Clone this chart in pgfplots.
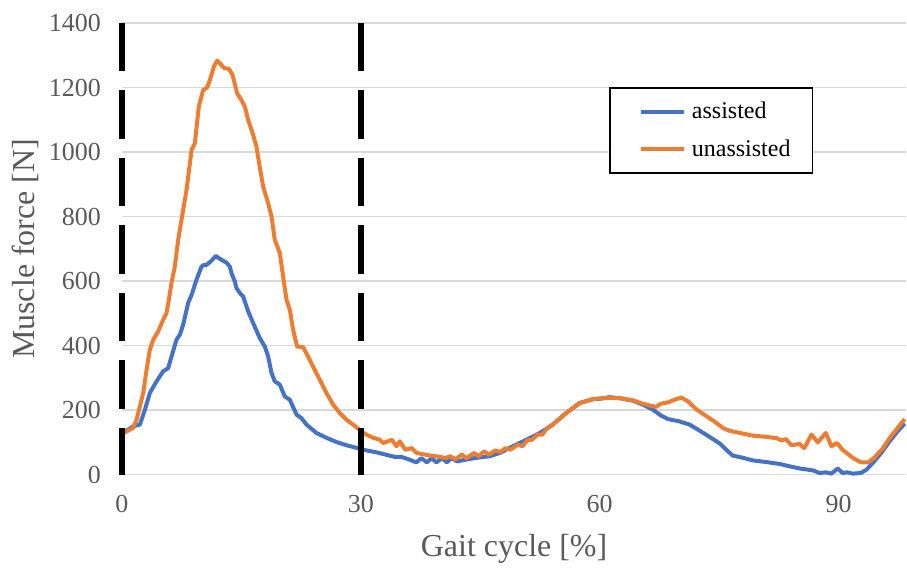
\documentclass[border=0pt]{standalone}
\usepackage{pgfplots}
\pgfplotsset{compat=1.18}
\usepackage{fontspec}
\setmainfont{Liberation Serif}
\definecolor{cblue}{HTML}{4472C4}
\definecolor{corange}{HTML}{ED7D31}
\definecolor{tickgray}{HTML}{595959}
\definecolor{gridgray}{HTML}{D9D9D9}
\begin{document}
\begin{tikzpicture}
\begin{axis}[
  scale only axis,
  width=392.5pt, height=226pt,
  xmin=0, xmax=98.5, ymin=0, ymax=1400,
  xtick={0,30,60,90},
  ytick={0,200,400,600,800,1000,1200,1400},
  ymajorgrids,
  grid style={draw=gridgray, line width=0.75pt},
  axis line style={draw=none},
  major tick length=0pt,
  clip=false,
  /pgf/number format/assume math mode=true,
  /pgf/number format/1000 sep={},
  tick label style={font=\fontsize{13}{13}\selectfont, text=tickgray},
  xticklabel style={yshift=-7pt},
  yticklabel style={xshift=-7pt},
  xlabel={Gait cycle [\%]},
  ylabel={Muscle force [N]},
  label style={font=\fontsize{16}{16}\selectfont, text=tickgray},
  xlabel style={at={(axis description cs:0.5,-0.1637)}, anchor=center},
  ylabel style={at={(axis description cs:-0.1236,0.5)}, anchor=center},
  legend style={at={(axis cs:61.2,1201)}, anchor=north west, draw=black, line width=0.8pt,
    font=\fontsize{12}{12}\selectfont, text=black, inner xsep=9pt, inner ysep=5pt,
    row sep=5pt},
  legend cell align=left,
  legend image code/.code={\path (0pt,0pt) (28pt,0pt); \draw[#1, line width=2pt] (5.5pt,0pt) -- (27pt,0pt);},
]
\addplot[color=cblue, line width=2pt, line join=round] coordinates {
(0,130) (0.4,133) (1.42,150) (2.26,155) (2.89,201) (3.51,253) (4.35,289) (5.18,320) (5.81,330) (6.23,366) (6.86,418) (7.28,434) (7.7,465) (8.32,532) (8.75,557) (9.37,604) (10.0,645) (10.3,650) (10.62,650) (11.25,663) (11.8,678) (12.1,672) (12.5,666) (13.14,657) (13.55,645) (13.77,624) (14.18,599) (14.39,578) (14.81,563) (15.23,552) (15.86,506) (16.48,470) (17.32,423) (17.95,397) (18.37,366) (18.79,315) (19.2,289) (19.83,279) (20.46,242) (21.09,232) (21.93,186) (22.55,175) (23.18,155) (24.43,129) (25.69,114) (26.94,101) (28.2,91) (29.45,83) (30.3,77) (31.97,69) (32.8,64) (33.6,59) (34.27,55) (35.1,55) (36.15,46) (36.98,38) (37.6,51) (38.3,38) (38.9,51) (39.5,38) (40.2,51) (40.8,38) (41.4,51) (42.1,41) (43.1,46) (44.5,52) (46.2,57) (47.45,67) (49.1,88) (50.8,108) (52.5,129) (54.1,155) (55.8,191) (57.5,222) (59.2,234) (60.0,235) (61.25,240) (62.5,237) (64.2,229) (65.4,217) (66.7,201) (67.7,183) (68.6,172) (70.0,165) (71.3,155) (72.5,137) (73.8,117) (75.1,96) (75.9,77) (76.7,59) (78.0,52) (79.2,44) (80.9,39) (82.6,33) (83.8,26) (85.1,19) (86.8,13) (87.6,5) (88.4,7) (89.1,3) (89.9,19) (90.5,5) (91.1,7) (91.8,3) (92.8,5) (93.5,15) (94.3,36) (95.35,67) (96.4,103) (97.4,134) (98.3,158)
};
\addlegendentry{assisted}
\addplot[color=corange, line width=2pt, line join=round] coordinates {
(0,130) (0.38,131) (1.42,145) (1.84,170) (2.26,212) (2.68,253) (3.1,325) (3.51,387) (3.93,418) (4.56,444) (5.18,480) (5.6,500) (5.9,542) (6.23,594) (6.65,645) (7.07,728) (7.49,790) (8.12,883) (8.75,1006) (9.16,1027) (9.66,1141) (10.2,1192) (10.7,1200) (11.05,1223) (11.55,1265) (11.96,1283) (12.39,1273) (12.8,1261) (13.47,1257) (13.9,1239) (14.47,1182) (15.02,1161) (15.44,1141) (15.86,1099) (16.48,1053) (16.9,1017) (17.3,955) (17.74,893) (18.37,841) (18.79,800) (19.2,728) (19.83,687) (20.25,614) (20.67,542) (21.09,511) (21.5,449) (22.0,397) (22.76,395) (23.38,366) (24.0,335) (24.85,294) (25.69,253) (26.52,217) (27.36,191) (28.2,170) (29.03,155) (30.1,134) (30.7,124) (31.55,114) (32.4,108) (32.8,98) (33.4,103) (33.9,108) (34.5,88) (34.9,103) (35.6,77) (36.4,82) (37.0,67) (38.7,59) (40.0,55) (40.6,51) (41.2,57) (41.9,48) (42.7,62) (43.3,51) (44.2,67) (44.8,57) (45.5,72) (46.1,62) (46.9,75) (47.5,70) (48.2,82) (48.8,77) (49.7,93) (50.3,88) (50.9,106) (51.5,108) (52.2,124) (52.8,124) (53.4,144) (54.0,152) (54.8,170) (55.8,191) (57.5,222) (59.2,234) (60.0,236) (61.25,238) (62.5,237) (64.2,230) (65.4,220) (66.3,214) (67.1,210) (67.7,220) (68.6,224) (69.4,232) (70.25,239) (71.1,227) (72.1,203) (73.4,181) (74.4,165) (75.5,144) (76.3,136) (77.6,129) (79.2,121) (80.9,117) (82.2,113) (82.8,106) (83.4,110) (84.1,91) (85.1,95) (85.7,82) (86.6,124) (87.4,100) (88.4,129) (89.1,88) (89.8,98) (90.5,77) (91.8,52) (92.8,38) (93.7,38) (94.5,52) (95.6,83) (96.4,113) (97.4,144) (98.3,172)
};
\addlegendentry{unassisted}
\addplot[forget plot, black, line width=3pt, line cap=butt, dash pattern=on 24.25pt off 9.5pt] coordinates {(0,1400) (0,0)};
\addplot[forget plot, black, line width=3pt, line cap=butt, dash pattern=on 24.25pt off 9.5pt] coordinates {(30,1400) (30,0)};
\end{axis}
\path (current axis.south west) ++(-61pt,-45.5pt) coordinate (bbA);
\path (current axis.north east) ++(0pt,11.5pt) coordinate (bbB);
\path (bbA) rectangle (bbB);
\end{tikzpicture}
\end{document}
